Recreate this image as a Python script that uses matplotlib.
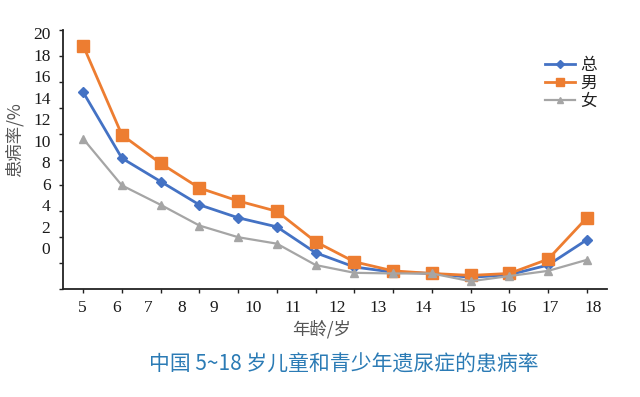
import matplotlib.pyplot as plt

plt.rcParams['font.family'] = ['Noto Sans CJK SC', 'DejaVu Sans']

# ages (years) and prevalence (%)
ages = [5, 6, 7, 8, 9, 10, 11, 12, 13, 14, 15, 16, 17, 18]
total = [15.2, 10.1, 8.3, 6.5, 5.5, 4.8, 2.8, 1.7, 1.3, 1.2, 0.9, 1.1, 1.85, 3.8]
male = [18.8, 11.9, 9.7, 7.8, 6.8, 6.0, 3.65, 2.1, 1.4, 1.2, 1.05, 1.2, 2.3, 5.5]
female = [11.6, 8.0, 6.5, 4.9, 4.0, 3.5, 1.85, 1.25, 1.2, 1.2, 0.6, 1.0, 1.4, 2.25]
y_ticks = [0, 2, 4, 6, 8, 10, 12, 14, 16, 18, 20]

# the printed tick labels sit a bit off the tick marks in the source figure
label_shift = [-0.03, -0.15, -0.32, -0.45, -0.62, -0.62, -0.58, -0.45, -0.39, -0.23, -0.1, -0.04, 0.05, 0.15]

W, H = 640, 397
fig = plt.figure(figsize=(6.4, 3.97), dpi=100)
rect = [63 / W, 1 - 289 / H, 544 / W, 259 / H]
ax = fig.add_axes(rect)

ax.plot(ages, total, color='#4472C4', marker='D', ms=5, lw=2, label='总')
ax.plot(ages, male, color='#ED7D31', marker='s', ms=8, lw=2, label='男')
ax.plot(ages, female, color='#A5A5A5', marker='^', ms=6, lw=1.6, label='女')

ax.set_xlim(4.48, 18.52)
ax.set_ylim(0, 20)
ax.set_xticks(ages)
ax.set_yticks(y_ticks)
ax.tick_params(labelbottom=False, labelleft=False, length=3, width=1, color='#222222')
for s in ['top', 'right']:
    ax.spines[s].set_visible(False)
for s in ['left', 'bottom']:
    ax.spines[s].set_linewidth(1.3)
    ax.spines[s].set_color('#222222')

# separate axes only for the (offset) tick labels
lab = fig.add_axes(rect, frameon=False)
lab.set_xlim(4.48, 18.52)
lab.set_ylim(-3.81, 20.28)
lab.set_yticks(y_ticks)
lab.set_yticklabels([str(v) for v in y_ticks])
lab.set_xticks([a + s for a, s in zip(ages, label_shift)])
lab.set_xticklabels([str(a) for a in ages])
lab.tick_params(length=0, pad=9, labelsize=12.5, labelcolor='#1a1a1a')
lab.tick_params(axis='x', pad=8)
for t in lab.get_xticklabels() + lab.get_yticklabels():
    t.set_family('Liberation Serif')
lab.patch.set_visible(False)

leg = ax.legend(loc='upper left', bbox_to_anchor=(545 / W, 1 - 57 / H), bbox_transform=fig.transFigure,
                frameon=False, fontsize=12, handlelength=1.8, handletextpad=0.3, markerscale=0.8,
                labelspacing=0.05, borderpad=0, borderaxespad=0, labelcolor='#222222')

fig.text(14 / W, 1 - 140 / H, '患病率/%', rotation=90, color='#555555', fontsize=12.5,
         ha='center', va='center')
fig.text(322 / W, 1 - 329 / H, '年龄/岁', color='#555555', fontsize=12.5,
         ha='center', va='center')
fig.text(344 / W, 1 - 365 / H, '中国 5~18 岁儿童和青少年遗尿症的患病率', color='#2b7bb5',
         fontsize=15, fontweight='medium', ha='center', va='center')

fig.savefig('out.png', dpi=100)
